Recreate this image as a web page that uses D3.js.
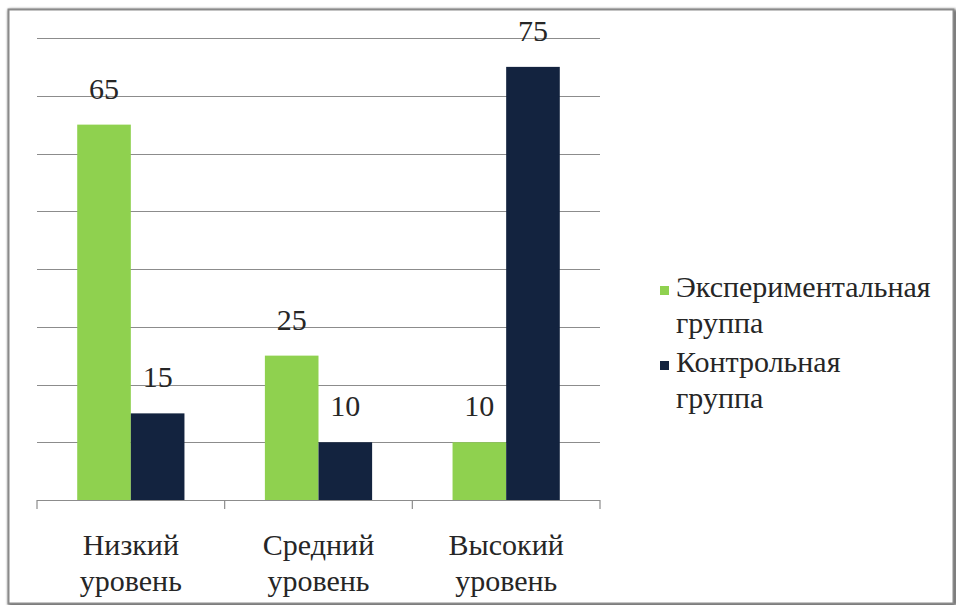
<!DOCTYPE html>
<html>
<head>
<meta charset="utf-8">
<script src="https://cdn.jsdelivr.net/npm/d3@7"></script>
<style>
  html, body { margin: 0; padding: 0; background: #fff; }
</style>
</head>
<body>
<svg id="chart" width="956" height="605"></svg>
<script>
// Уровни и результаты двух групп (%)
const categories = [["Низкий", "уровень"], ["Средний", "уровень"], ["Высокий", "уровень"]];
const seriesNames = [["Экспериментальная", "группа"], ["Контрольная", "группа"]];
const experimental = [65, 25, 10];
const control = [15, 10, 75];
const yTicks = [0, 10, 20, 30, 40, 50, 60, 70, 80];
const colors = ["#8fd14f", "#13233f"];
const textColor = "#262626";

// Pick the first serif face that is actually installed
function pickFont(candidates) {
  const ctx = document.createElement("canvas").getContext("2d");
  const sample = "Экспериментальная 0123456789 Wmil";
  for (const base of ["monospace", "sans-serif"]) {
    ctx.font = `40px ${base}`;
    const w0 = ctx.measureText(sample).width;
    for (const c of candidates) {
      ctx.font = `40px "${c}", ${base}`;
      if (Math.abs(ctx.measureText(sample).width - w0) > 0.5) return `"${c}"`;
    }
  }
  return "serif";
}
const fontFamily = pickFont(["Liberation Serif", "Times New Roman", "Tinos", "DejaVu Serif", "Noto Serif", "FreeSerif"]);

const svg = d3.select("#chart").style("font-family", fontFamily + ", serif");

// Outer frame with soft shadow
const defs = svg.append("defs");
const f = defs.append("filter").attr("id", "shadow").attr("x", "-5%").attr("y", "-5%").attr("width", "110%").attr("height", "110%");
f.append("feGaussianBlur").attr("in", "SourceAlpha").attr("stdDeviation", 1.5);
f.append("feOffset").attr("dx", 1).attr("dy", 1).attr("result", "b");
const m = f.append("feMerge");
m.append("feMergeNode").attr("in", "b");
m.append("feMergeNode").attr("in", "SourceGraphic");

svg.append("rect")
  .attr("x", 8.5).attr("y", 9.5).attr("width", 945).attr("height", 594)
  .attr("fill", "#fff").attr("stroke", "#8a8a8a").attr("stroke-width", 2)
  .attr("filter", "url(#shadow)");

const plot = { left: 37, right: 600, top: 38, bottom: 500 };

const x0 = d3.scaleBand()
  .domain(d3.range(categories.length))
  .range([plot.left, plot.right])
  .paddingInner(0).paddingOuter(0);

const barW = x0.bandwidth() / 3.5;
const x1 = d3.scaleBand()
  .domain([0, 1])
  .range([(x0.bandwidth() - 2 * barW) / 2, (x0.bandwidth() + 2 * barW) / 2])
  .padding(0);

const y = d3.scaleLinear().domain([0, 80]).range([plot.bottom, plot.top]);

// Horizontal gridlines
svg.append("g")
  .selectAll("line")
  .data(yTicks.filter(t => t > 0))
  .join("line")
  .attr("x1", plot.left).attr("x2", plot.right)
  .attr("y1", d => Math.round(y(d)) + 0.5).attr("y2", d => Math.round(y(d)) + 0.5)
  .attr("stroke", "#8c8c8c").attr("stroke-width", 1.2);

// Bars
const groups = svg.append("g")
  .selectAll("g")
  .data(categories.map((c, i) => [experimental[i], control[i]]))
  .join("g")
  .attr("transform", (d, i) => `translate(${x0(i)},0)`);

groups.selectAll("rect")
  .data(d => d)
  .join("rect")
  .attr("x", (d, j) => x1(j))
  .attr("width", x1.bandwidth())
  .attr("y", d => y(d))
  .attr("height", d => y(0) - y(d))
  .attr("fill", (d, j) => colors[j]);

// Value labels
groups.selectAll("text")
  .data(d => d)
  .join("text")
  .attr("x", (d, j) => x1(j) + x1.bandwidth() / 2)
  .attr("y", d => y(d) - 26)
  .attr("text-anchor", "middle")
  .attr("font-size", 30)
  .attr("fill", textColor)
  .text(d => d);

// Category axis
const xAxis = svg.append("g").attr("transform", `translate(0,${plot.bottom})`);
xAxis.append("line")
  .attr("x1", plot.left).attr("x2", plot.right)
  .attr("y1", 0.5).attr("y2", 0.5)
  .attr("stroke", "#8c8c8c").attr("stroke-width", 1.2);
xAxis.selectAll("line.tick")
  .data(d3.range(categories.length + 1))
  .join("line")
  .attr("class", "tick")
  .attr("x1", i => plot.left + i * x0.step()).attr("x2", i => plot.left + i * x0.step())
  .attr("y1", 0).attr("y2", 9)
  .attr("stroke", "#8c8c8c").attr("stroke-width", 1.2);

xAxis.selectAll("text")
  .data(categories)
  .join("text")
  .attr("text-anchor", "middle")
  .attr("font-size", 30)
  .attr("fill", textColor)
  .attr("transform", (d, i) => `translate(${x0(i) + x0.bandwidth() / 2},0)`)
  .selectAll("tspan")
  .data(d => d)
  .join("tspan")
  .attr("x", 0)
  .attr("y", (d, k) => 55 + k * 36)
  .text(d => d);

// Legend
const legend = svg.append("g").attr("transform", "translate(660,0)");
const lg = legend.selectAll("g")
  .data(seriesNames)
  .join("g")
  .attr("transform", (d, i) => `translate(0,${297 + i * 75})`);
lg.append("rect")
  .attr("x", 0).attr("y", -11).attr("width", 9).attr("height", 9)
  .attr("fill", (d, i) => colors[i]);
lg.append("text")
  .attr("font-size", 30)
  .attr("fill", textColor)
  .selectAll("tspan")
  .data(d => d)
  .join("tspan")
  .attr("x", 16)
  .attr("y", (d, k) => k * 36)
  .text(d => d);
</script>
</body>
</html>
